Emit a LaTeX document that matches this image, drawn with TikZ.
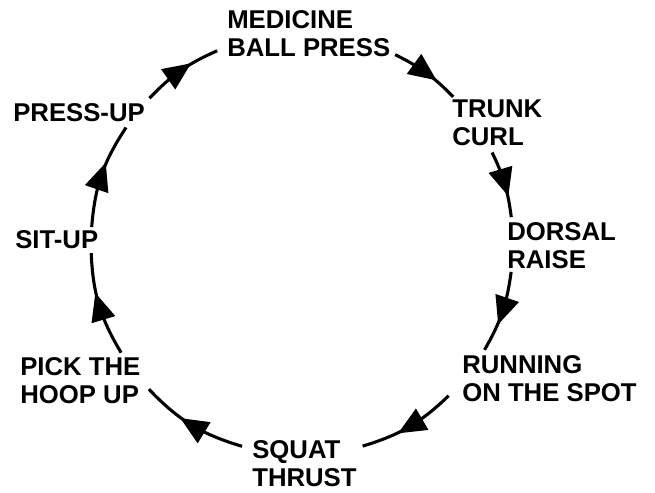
\documentclass[tikz,border=0pt]{standalone}
\usepackage{fontspec}
\setmainfont{Liberation Sans}
\usetikzlibrary{arrows.meta,decorations.markings,calc}

\begin{document}
\begin{tikzpicture}[
  x=0.25mm, y=0.25mm,
  lbl/.style={anchor=north west, inner sep=0pt, align=left,
    font=\fontsize{18.3}{19.9}\selectfont\bfseries},
  arr/.style={line width=2.2pt,
    decoration={markings, mark=at position 0.5 with
      {\arrow[xshift=3.2mm]{Triangle[length=7mm, width=6mm]}}},
    postaction={decorate}},
]
\useasboundingbox (0,0) rectangle (655,493);
\coordinate (o) at (302,249);

% Stations
\node[lbl] (mbp) at (227,483) {MEDICINE\\BALL PRESS};
\node[lbl] (tc) at (452,393) {TRUNK\\CURL};
\node[lbl] (dr) at (507,271) {DORSAL\\RAISE};
\node[lbl] (rs) at (462,138) {RUNNING\\ON THE SPOT};
\node[lbl] (st) at (252,53) {SQUAT\\THRUST};
\node[lbl] (ph) at (20,136) {PICK THE\\HOOP UP};
\node[lbl] (su) at (15,263) {SIT-UP};
\node[lbl] (pu) at (13,390) {PRESS-UP};

% Points on the circle
\coordinate (pu_out) at ($(o)+(136.3:211)$);
\coordinate (mbp_in) at ($(o)+(113.7:211)$);
\coordinate (mbp_out) at ($(o)+(63.8:211)$);
\coordinate (tc_in) at ($(o)+(44.2:211)$);
\coordinate (tc_out) at ($(o)+(25.7:211)$);
\coordinate (dr_in) at ($(o)+(7.3:211)$);
\coordinate (dr_out) at ($(o)+(-7.6:211)$);
\coordinate (rs_in) at ($(o)+(-30.1:211)$);
\coordinate (rs_out) at ($(o)+(-46:211)$);
\coordinate (st_in) at ($(o)+(-73.3:211)$);
\coordinate (st_out) at ($(o)+(-106.5:211)$);
\coordinate (ph_in) at ($(o)+(-136.5:211)$);
\coordinate (ph_out) at ($(o)+(-149:211)$);
\coordinate (su_in) at ($(o)+(-177.5:211)$);
\coordinate (su_out) at ($(o)+(175.4:211)$);
\coordinate (pu_in) at ($(o)+(146.5:211)$);

% Circuit
\draw[arr] (pu_out) to[bend left=11.3] (mbp_in);
\draw[arr] (mbp_out) to[bend left=9.8] (tc_in);
\draw[arr] (tc_out) to[bend left=9.2] (dr_in);
\draw[arr] (dr_out) to[bend left=11.25] (rs_in);
\draw[arr] (rs_out) to[bend left=13.65] (st_in);
\draw[arr] (st_out) to[bend left=15] (ph_in);
\draw[arr] (ph_out) to[bend left=14.25] (su_in);
\draw[arr] (su_out) to[bend left=14.45] (pu_in);

\end{tikzpicture}
\end{document}
